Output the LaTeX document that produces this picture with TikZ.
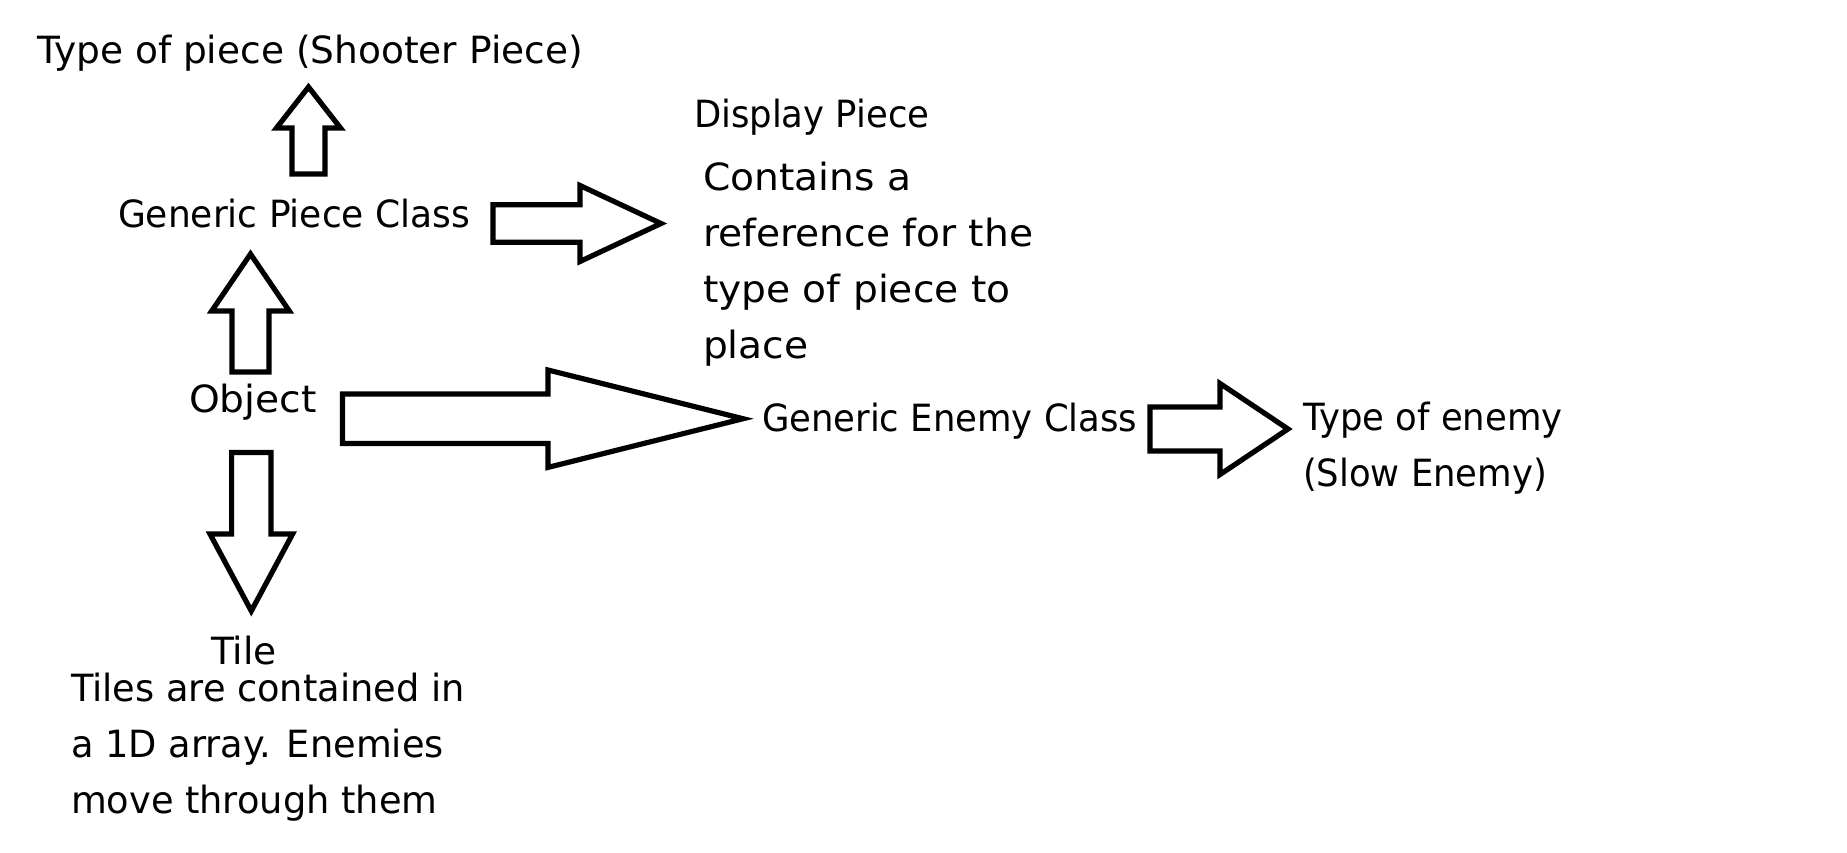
\documentclass[tikz,border=0pt]{standalone}
\usepackage{fontspec}
\setmainfont{DejaVu Sans}
\newfontfamily\fnA[FakeStretch=0.96]{DejaVu Sans}
\newfontfamily\fnB[FakeStretch=0.945]{DejaVu Sans}
\newfontfamily\fnC[FakeStretch=1.045]{DejaVu Sans}
\newfontfamily\fnD[FakeStretch=0.98]{DejaVu Sans}
\usetikzlibrary{calc}
\newcommand\lblsize{\fontsize{37.5}{56}\selectfont}
\tikzset{
  lbl/.style={inner sep=0pt, outer sep=0pt, anchor=base west, font=\lblsize},
  blk/.style={draw=black, line width=5.2pt, fill=white, line join=miter, miter limit=12},
}
% tail, tip, shaft half width, head half width, head length
\newcommand\blockarrow[5]{%
  \coordinate (hb) at ($(#2)!#5!(#1)$);
  \draw[blk] ($(#1)!#3!90:(#2)$) -- ($(hb)!#3!-90:(#1)$) -- ($(hb)!#4!-90:(#1)$)
    -- (#2) -- ($(hb)!#4!90:(#1)$) -- ($(hb)!#3!90:(#1)$) -- ($(#1)!#3!-90:(#2)$) -- cycle;}
\begin{document}
\begin{tikzpicture}[x=1pt,y=-1pt]
\useasboundingbox[fill=white] (0,0) rectangle (1847,853);

% single-line labels: anchored at the baseline; multi-line labels: at the baseline of their last line
\node[lbl] (tp) at (37,64) {Type of piece (Shooter Piece)};
\node[lbl, font={\fnA\lblsize}] (gpc) at (118,227) {Generic Piece Class};
\node[lbl, font={\fnB\lblsize}] (dp) at (694,128) {Display Piece};
\node[lbl, align=left, font={\fnC\lblsize}] (ca) at (703,358) {Contains a\\reference for the\\type of piece to\\place};
\node[lbl, font={\fnC\lblsize}] (obj) at (189,412) {Object};
\node[lbl, font={\fnB\lblsize}] (gec) at (762,431) {Generic Enemy Class};
\node[lbl, align=left, font={\fnB\lblsize}] (toe) at (1303,486) {Type of enemy\\(Slow Enemy)};
\node[lbl] (tile) at (211,664) {Tile};
\node[lbl, align=left, font={\fnD\lblsize}] (tiles) at (71,813) {Tiles are contained in\\a 1D array. Enemies\\move through them};

% arrow end points
\coordinate (a1t) at (308.5,174);  \coordinate (a1h) at (308.5,87);
\coordinate (a2t) at (493,223.5);  \coordinate (a2h) at (661,223.5);
\coordinate (a3t) at (250.5,372);  \coordinate (a3h) at (250.5,254);
\coordinate (a4t) at (342.5,418.7);\coordinate (a4h) at (743,418.7);
\coordinate (a5t) at (251.3,452.5);\coordinate (a5h) at (251.3,611);
\coordinate (a6t) at (1150,429);   \coordinate (a6h) at (1288,429);

\blockarrow{a1t}{a1h}{16.5pt}{32pt}{41pt}
\blockarrow{a2t}{a2h}{18.7pt}{38pt}{81pt}
\blockarrow{a3t}{a3h}{18.5pt}{38.8pt}{57pt}
\blockarrow{a4t}{a4h}{24.7pt}{48.7pt}{195pt}
\blockarrow{a5t}{a5h}{19.7pt}{41.3pt}{77pt}
\blockarrow{a6t}{a6h}{22pt}{45.5pt}{68pt}
\end{tikzpicture}
\end{document}
